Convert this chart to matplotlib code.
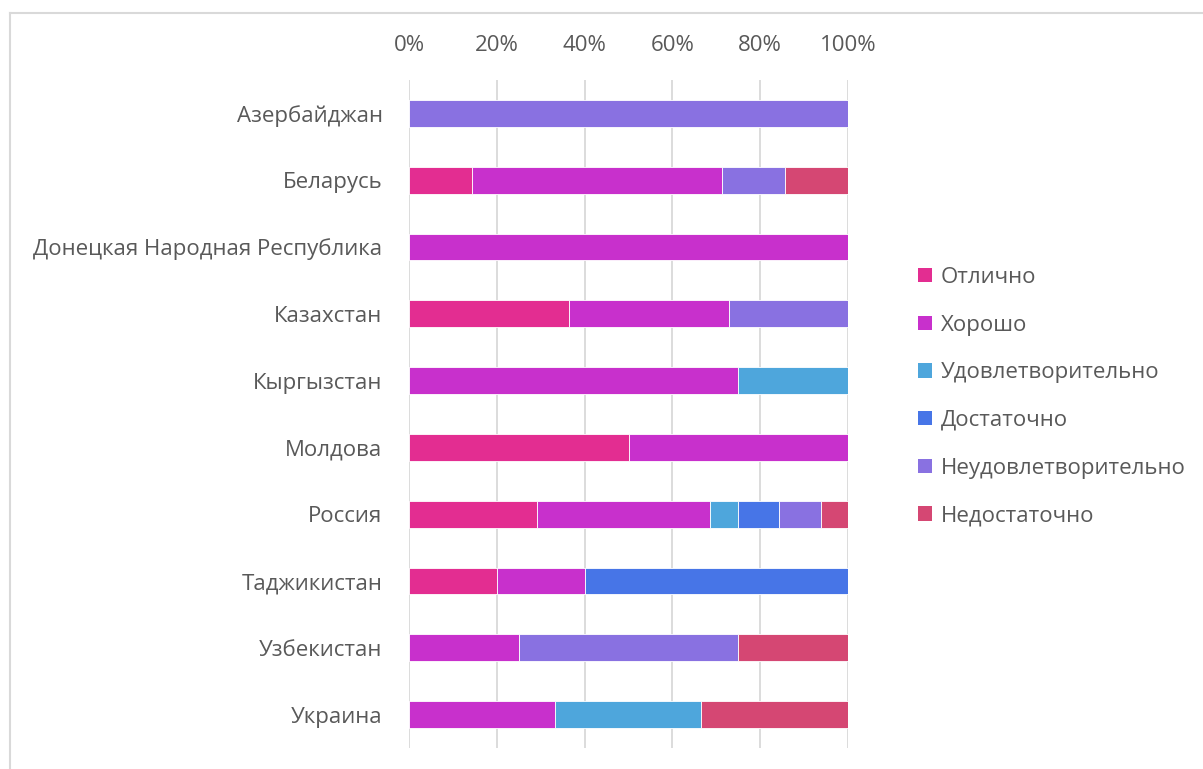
import matplotlib
matplotlib.use("Agg")
import matplotlib.pyplot as plt
from matplotlib.lines import Line2D
import numpy as np

plt.rcParams['font.family'] = ['Open Sans', 'DejaVu Sans']

countries = ["Азербайджан", "Беларусь", "Донецкая Народная Республика", "Казахстан",
             "Кыргызстан", "Молдова", "Россия", "Таджикистан", "Узбекистан", "Украина"]
series_names = ["Отлично", "Хорошо", "Удовлетворительно", "Достаточно",
                "Неудовлетворительно", "Недостаточно"]
colors = ["#E32D91", "#C830CC", "#4EA6DC", "#4775E7", "#8971E1", "#D54773"]

otlichno = [0, 14.3, 0, 36.4, 0, 50, 29.2, 20, 0, 0]
horosho = [0, 57.1, 100, 36.4, 75, 50, 39.4, 20, 25, 33.3]
udovl = [0, 0, 0, 0, 25, 0, 6.3, 0, 0, 33.3]
dostatochno = [0, 0, 0, 0, 0, 0, 9.4, 60, 0, 0]
neudovl = [100, 14.3, 0, 27.2, 0, 0, 9.5, 0, 50, 0]
nedostatochno = [0, 14.3, 0, 0, 0, 0, 6.2, 0, 25, 33.4]
values = [otlichno, horosho, udovl, dostatochno, neudovl, nedostatochno]

xticks = [0, 20, 40, 60, 80, 100]
xticklabels = ["0%", "20%", "40%", "60%", "80%", "100%"]

W, H = 1203, 769
fig = plt.figure(figsize=(W / 100, H / 100), dpi=100)
ax = fig.add_axes([409 / W, 1 - 748 / H, (848 - 409) / W, (748 - 80) / H])

y = np.arange(len(countries))
left = np.zeros(len(countries))
for name, vals, c in zip(series_names, values, colors):
    v = np.array(vals, dtype=float)
    ax.barh(y, v, left=left, height=0.4, color=c, edgecolor='#ffffff', linewidth=0.6,
            label=name, zorder=3)
    left += v

ax.set_ylim(len(countries) - 0.5, -0.5)
ax.set_xlim(0, 100)
ax.set_yticks(y)
ax.set_yticklabels(countries, fontsize=16, color='#595959')
ax.xaxis.tick_top()
ax.set_xticks(xticks)
ax.set_xticklabels(xticklabels, fontsize=16, color='#595959')
ax.tick_params(axis='both', length=0)
ax.tick_params(axis='y', pad=19)
ax.tick_params(axis='x', pad=17)
for s in ax.spines.values():
    s.set_visible(False)
ax.grid(axis='x', color='#D9D9D9', linewidth=1.3, zorder=0)
ax.set_axisbelow(True)

leg = fig.legend(loc='upper left', bbox_to_anchor=(898 / W, 1 - 247 / H), frameon=False,
                 fontsize=16, handlelength=0.63, handleheight=0.63, handletextpad=0.4,
                 labelspacing=1.2, labelcolor='#595959')
for h in leg.legend_handles:
    h.set_edgecolor('none')

# outer frame (top and left edges)
fig.add_artist(Line2D([10 / W, 1], [1 - 13 / H, 1 - 13 / H], color='#D9D9D9', linewidth=1.5,
                      transform=fig.transFigure))
fig.add_artist(Line2D([10 / W, 10 / W], [0, 1 - 13 / H], color='#D9D9D9', linewidth=1.5,
                      transform=fig.transFigure))

fig.savefig("out.png", dpi=100, facecolor='white')
